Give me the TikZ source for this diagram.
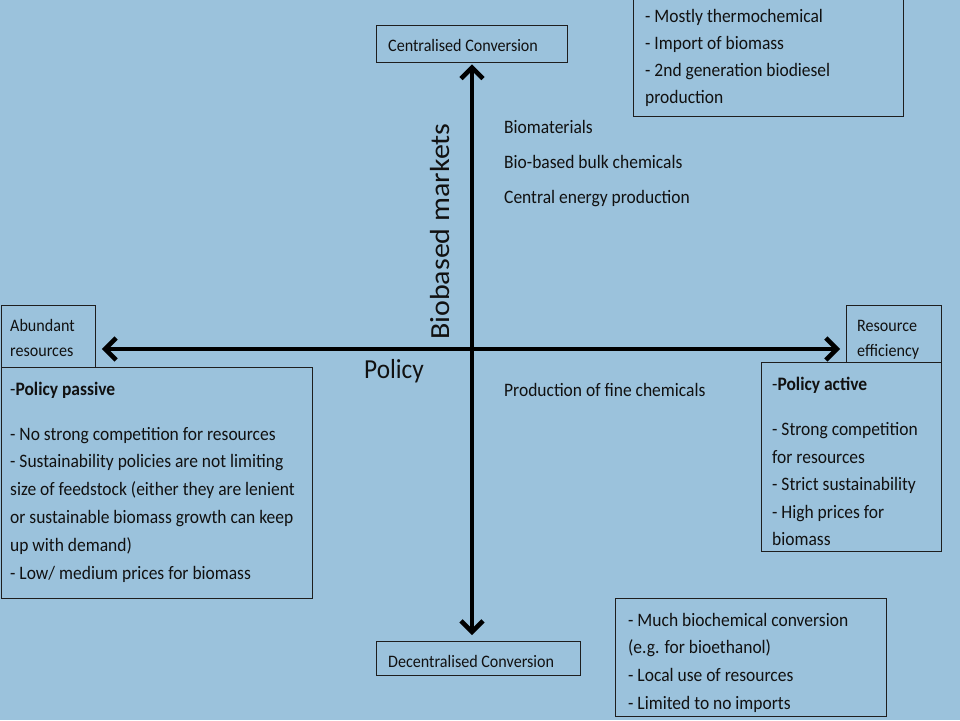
\documentclass[tikz,border=0pt]{standalone}
\usepackage{fontspec}
\setmainfont{Carlito}
\usetikzlibrary{arrows.meta,calc}
\definecolor{bg}{RGB}{155,194,220}
\definecolor{edge}{RGB}{30,30,30}
\definecolor{ink}{RGB}{17,17,17}
\begin{document}
\begin{tikzpicture}[x=1pt,y=-1pt,
  framebox/.style={draw=edge,line width=1.4pt,inner sep=0pt,anchor=north west},
  txt/.style={anchor=base west,inner sep=0pt,xscale=0.92,text=ink,font=\fontsize{19}{23}\selectfont},
  smalltxt/.style={txt,font=\fontsize{17.5}{21}\selectfont},
  axis/.style={line width=4.5pt,draw=black,{Straight Barb[length=11pt,width=22pt]}-{Straight Barb[length=11pt,width=22pt]}}
]
\useasboundingbox (0,0) rectangle (960,720);
\fill[bg] (0,0) rectangle (960,720);
\coordinate (origin) at (472,349);

% boxes
\node[framebox,minimum width=191pt,minimum height=37pt] (central) at (376,25) {};
\node[framebox,minimum width=270pt,minimum height=130pt] (topright) at (633,-14) {};
\node[framebox,minimum width=94pt,minimum height=62pt] (abund) at (0.5,305) {};
\node[framebox,minimum width=311pt,minimum height=231pt] (passive) at (0.5,367) {};
\node[framebox,minimum width=95pt,minimum height=57pt] (reseff) at (846,305) {};
\node[framebox,minimum width=180pt,minimum height=189pt] (active) at (761,362) {};
\node[framebox,minimum width=204pt,minimum height=34pt] (decentral) at (376,641) {};
\node[framebox,minimum width=271pt,minimum height=118pt] (botright) at (615,598) {};

% axes
\draw[axis,shorten <=6pt,shorten >=6pt] (abund.east |- origin) -- (reseff.west |- origin);
\draw[axis,shorten <=1pt,shorten >=6pt] (central.south -| origin) -- (decentral.north -| origin);

% box texts
\node[smalltxt] (tcentral) at (388,51) {Centralised Conversion};
\node[txt] (tr1) at (645,22) {- Mostly thermochemical};
\node[txt] (tr2) at (645,49) {- Import of biomass};
\node[txt] (tr3) at (645,76) {- 2nd generation biodiesel};
\node[txt] (tr4) at (645,103) {production};

\node[smalltxt] (ab1) at (10,331) {Abundant};
\node[smalltxt] (ab2) at (10,356) {resources};

\node[txt] (pp0) at (10,395) {-\textbf{Policy passive}};
\node[txt] (pp1) at (10,440) {- No strong competition for resources};
\node[txt] (pp2) at (10,467) {- Sustainability policies are not limiting};
\node[txt] (pp3) at (10,495) {size of feedstock (either they are lenient};
\node[txt] (pp4) at (10,523) {or sustainable biomass growth can keep};
\node[txt] (pp5) at (10,551) {up with demand)};
\node[txt] (pp6) at (10,579) {- Low/ medium prices for biomass};

\node[smalltxt] (re1) at (857,331) {Resource};
\node[smalltxt] (re2) at (857,356) {efficiency};

\node[txt] (pa0) at (772,390) {-\textbf{Policy active}};
\node[txt] (pa1) at (772,435) {- Strong competition};
\node[txt] (pa2) at (772,463) {for resources};
\node[txt] (pa3) at (772,490) {- Strict sustainability};
\node[txt] (pa4) at (772,518) {- High prices for};
\node[txt] (pa5) at (772,545) {biomass};

\node[smalltxt] (tdecentral) at (388,667) {Decentralised Conversion};
\node[txt] (br1) at (628,626) {- Much biochemical conversion};
\node[txt] (br2) at (628,653) {(e.g. for bioethanol)};
\node[txt] (br3) at (628,681) {- Local use of resources};
\node[txt] (br4) at (628,709) {- Limited to no imports};

% quadrant texts
\node[txt] (m1) at (504,133) {Biomaterials};
\node[txt] (m2) at (504,168) {Bio-based bulk chemicals};
\node[txt] (m3) at (504,203) {Central energy production};
\node[txt] (m4) at (504,396) {Production of fine chemicals};

% axis labels
\node[anchor=base west,inner sep=0pt,rotate=90,yscale=0.92,text=ink,font=\fontsize{30}{36}\selectfont] (biomk) at (449,340) {Biobased markets};
\node[txt,font=\fontsize{27.5}{33}\selectfont] (policy) at (364,378) {Policy};
\end{tikzpicture}
\end{document}
